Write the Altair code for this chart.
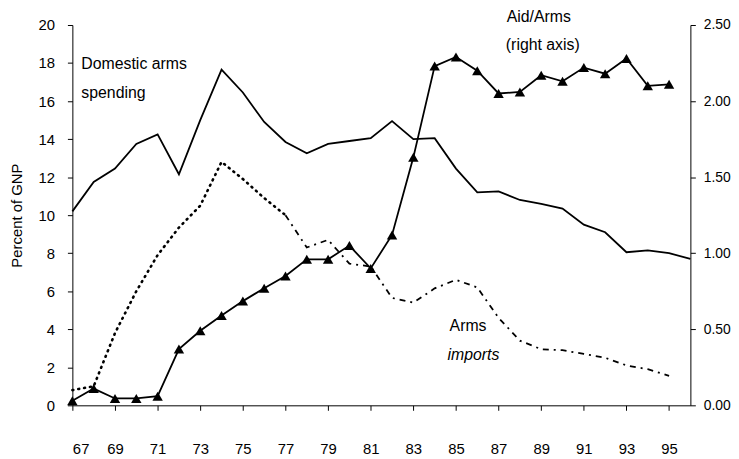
import altair as alt
import pandas as pd

years = list(range(67, 97))
domestic = [10.2, 11.75, 12.45, 13.75, 14.25, 12.15, 15.0, 17.65, 16.45, 14.9,
            13.85, 13.25, 13.75, 13.9, 14.05, 14.95, 14.0, 14.05, 12.45, 11.2,
            11.25, 10.8, 10.6, 10.35, 9.5, 9.1, 8.05, 8.15, 8.0, 7.7]
imports = [0.8, 1.0, 3.8, 6.0, 7.9, 9.35, 10.5, 12.8, 11.9, 10.9,
           10.0, 8.3, 8.7, 7.45, 7.3, 5.65, 5.4, 6.15, 6.6, 6.2,
           4.6, 3.4, 2.95, 2.9, 2.7, 2.5, 2.1, 1.9, 1.55, None]
aid_arms = [0.03, 0.11, 0.045, 0.045, 0.06, 0.37, 0.49, 0.59, 0.685, 0.77,
            0.85, 0.96, 0.96, 1.05, 0.9, 1.12, 1.63, 2.23, 2.29, 2.2,
            2.05, 2.06, 2.17, 2.13, 2.22, 2.18, 2.28, 2.1, 2.11, None]

left_ticks = [0, 2, 4, 6, 8, 10, 12, 14, 16, 18, 20]
right_ticks = [0.0, 0.5, 1.0, 1.5, 2.0, 2.5]

ann_text = ["Domestic arms", "spending", "Aid/Arms", "(right axis)", "Arms", "imports"]
ann_year = [67.42, 67.42, 87.38, 87.34, 84.7, 84.6]
ann_val = [17.93, 16.43, 20.43, 18.96, 4.17, 2.64]
ann_italic = [False, False, False, False, False, True]

df = pd.DataFrame({"year": years, "domestic": domestic,
                   "imports": imports, "aid": aid_arms})
ann = pd.DataFrame({"text": ann_text, "year": ann_year, "val": ann_val,
                    "italic": ann_italic})

FONT = "Liberation Sans"

x_enc = alt.X("year:Q", scale=alt.Scale(domain=[67, 96], nice=False, zero=False),
              axis=alt.Axis(values=years, title=None, grid=False, format="d",
                            labelExpr="(datum.value % 2 == 1) ? datum.label : ''",
                            tickSize=5, labelPadding=32, labelFontSize=15,
                            labelFont=FONT, labelColor="black",
                            domainColor="black", tickColor="black"))

left_scale = alt.Scale(domain=[0, 20], nice=False)
left_axis = alt.Axis(values=left_ticks, title="Percent of GNP", grid=False,
                     tickSize=5, labelPadding=13, labelFontSize=15, labelFont=FONT,
                     labelColor="black", titleFont=FONT, titleFontSize=15,
                     titleFontWeight="normal", titleColor="black", titlePadding=14,
                     domainColor="black", tickColor="black", labelOverlap=False)

base = alt.Chart(df)

dom_line = base.mark_line(color="black", strokeWidth=1.8).encode(
    x=x_enc, y=alt.Y("domestic:Q", scale=left_scale, axis=left_axis))

imp_a = base.transform_filter("datum.year <= 77").mark_line(
    color="black", strokeWidth=2.6, strokeDash=[1, 5], strokeCap="round").encode(
    x=x_enc, y=alt.Y("imports:Q", scale=left_scale, axis=left_axis))

imp_b = base.transform_filter("datum.year >= 77 && datum.imports != null").mark_line(
    color="black", strokeWidth=1.8, strokeDash=[6, 5, 2, 5]).encode(
    x=x_enc, y=alt.Y("imports:Q", scale=left_scale, axis=left_axis))

ann_base = alt.Chart(ann)
lab_x = alt.X("year:Q", scale=alt.Scale(domain=[67, 96], nice=False, zero=False))
lab_y = alt.Y("val:Q", scale=left_scale, axis=left_axis)
labels_n = ann_base.transform_filter("!datum.italic").mark_text(
    align="left", baseline="middle", font=FONT, fontSize=16, color="black").encode(
    x=lab_x, y=lab_y, text="text:N")
labels_i = ann_base.transform_filter("datum.italic").mark_text(
    align="left", baseline="middle", font=FONT, fontSize=16, fontStyle="italic",
    color="black").encode(x=lab_x, y=lab_y, text="text:N")

left = alt.layer(dom_line, imp_a, imp_b, labels_n, labels_i)

right_scale = alt.Scale(domain=[0, 2.5], nice=False)
right_axis = alt.Axis(values=right_ticks, title=None, grid=False, format=".2f",
                      orient="right", tickSize=5, labelPadding=8, labelFontSize=14,
                      labelFont=FONT, labelColor="black", domainColor="black",
                      tickColor="black")

aid_base = base.transform_filter("datum.aid != null")
aid_line = aid_base.mark_line(color="black", strokeWidth=1.8).encode(
    x=x_enc, y=alt.Y("aid:Q", scale=right_scale, axis=right_axis))
aid_pts = aid_base.mark_point(shape="triangle-up", filled=True, color="black",
                              size=110, opacity=1).encode(
    x=x_enc, y=alt.Y("aid:Q", scale=right_scale, axis=right_axis))

right = alt.layer(aid_line, aid_pts)

chart = alt.layer(left, right).resolve_scale(y="independent").properties(
    width=624, height=384,
    autosize=alt.AutoSizeParams(type="none"),
    padding={"left": 65, "top": 15, "right": 41, "bottom": 50},
    background="white",
).configure_view(stroke=None)

chart.save("out.html", embed_options={"renderer": "svg", "actions": False})
